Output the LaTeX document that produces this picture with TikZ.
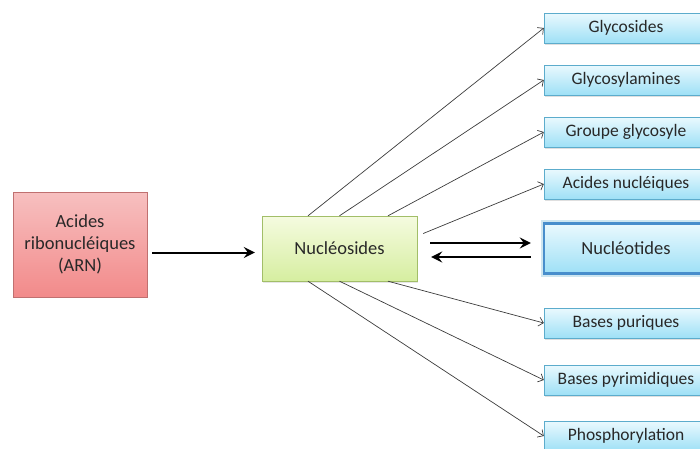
\documentclass[tikz,border=0pt]{standalone}
\usepackage{fontspec}
\setmainfont{Carlito}
\usepackage{xcolor}
\usepackage{tikz}
\usetikzlibrary{shadows,arrows.meta}
\definecolor{arntop}{RGB}{247,192,192}
\definecolor{arnbottom}{RGB}{242,138,138}
\definecolor{arnline}{RGB}{192,112,112}
\definecolor{nuctop}{RGB}{245,251,224}
\definecolor{nucbottom}{RGB}{214,238,160}
\definecolor{nucline}{RGB}{162,190,104}
\definecolor{bluetop}{RGB}{234,249,254}
\definecolor{bluebottom}{RGB}{158,224,246}
\definecolor{blueline}{RGB}{92,172,204}
\definecolor{mainline}{RGB}{72,142,204}
\definecolor{textgray}{RGB}{40,40,40}
\definecolor{linegray}{RGB}{60,60,60}
\tikzstyle{arnbox} = [rectangle, minimum width=134pt, minimum height=105pt, align=center, draw=arnline, top color=arntop, bottom color=arnbottom, text=textgray, font=\fontsize{18.5}{22}\selectfont]
\tikzstyle{nucbox} = [rectangle, minimum width=155pt, minimum height=65pt, text centered, draw=nucline, top color=nuctop, bottom color=nucbottom, text=textgray, font=\fontsize{18.5}{22}\selectfont, drop shadow={opacity=0.2, shadow xshift=1pt, shadow yshift=-1.5pt}]
\tikzstyle{targetbox} = [rectangle, minimum width=164pt, minimum height=30pt, text centered, draw=blueline, top color=bluetop, bottom color=bluebottom, text=textgray, font=\fontsize{17.5}{20}\selectfont, drop shadow={opacity=0.25, shadow xshift=0.5pt, shadow yshift=-1.5pt}]
\tikzstyle{mainbox} = [rectangle, minimum width=164pt, minimum height=50pt, text centered, draw=mainline, line width=2.4pt, top color=bluetop, bottom color=bluebottom, text=textgray, font=\fontsize{18.5}{20}\selectfont, preaction={draw=blueline, line width=7pt, opacity=0.3}]
\tikzstyle{thinarrow} = [-{Straight Barb[length=4.5pt,width=9pt]}, draw=linegray, line width=0.7pt]
\tikzstyle{thickarrow} = [-{Stealth[length=11pt,width=11pt,inset=4pt]}, line width=2pt]

\begin{document}
\begin{tikzpicture}[x=1pt,y=-1pt]
	\clip (0,0) rectangle (700,448);
	\node (arn) [arnbox] at (80,244.5) {Acides\\ribonucléiques\\(ARN)};
	\node (nuc) [nucbox] at (339.5,248.5) {Nucléosides};
	\node (glycosides) [targetbox] at (626,28) {Glycosides};
	\node (glycosylamines) [targetbox] at (626,80) {Glycosylamines};
	\node (glycosyle) [targetbox] at (626,132) {Groupe glycosyle};
	\node (acides) [targetbox] at (626,184) {Acides nucléiques};
	\node (nucleotides) [mainbox] at (626,248.5) {Nucléotides};
	\node (puriques) [targetbox] at (626,323) {Bases puriques};
	\node (pyrimidiques) [targetbox] at (626,380) {Bases pyrimidiques};
	\node (phospho) [targetbox] at (626,436) {Phosphorylation};
	\draw [thickarrow] ([xshift=5pt,yshift=-8pt]arn.east) -- ([xshift=-7pt,yshift=-4pt]nuc.west);
	\draw [thickarrow] ([xshift=13pt,yshift=5.5pt]nuc.east) -- ([xshift=-12pt,yshift=5.5pt]nucleotides.west);
	\draw [thickarrow] ([xshift=-12pt,yshift=-8.5pt]nucleotides.west) -- ([xshift=14pt,yshift=-8.5pt]nuc.east);
	\draw [thinarrow] ([xshift=-31.5pt]nuc.north) -- (glycosides.west);
	\draw [thinarrow] (nuc.north) -- (glycosylamines.west);
	\draw [thinarrow] ([xshift=48.5pt]nuc.north) -- (glycosyle.west);
	\draw [thinarrow] ([xshift=6pt,yshift=15pt]nuc.east) -- (acides.west);
	\draw [thinarrow] ([xshift=48.5pt]nuc.south) -- (puriques.west);
	\draw [thinarrow] (nuc.south) -- (pyrimidiques.west);
	\draw [thinarrow] ([xshift=-31.5pt]nuc.south) -- (phospho.west);
\end{tikzpicture}
\end{document}
